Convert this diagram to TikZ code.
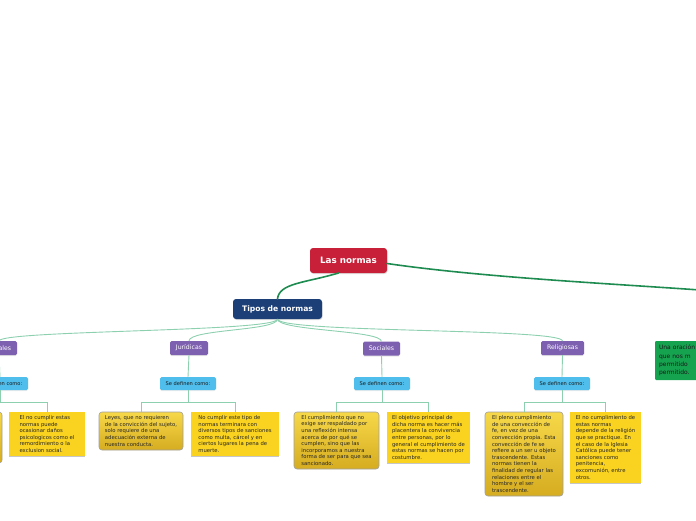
\documentclass[tikz,border=0pt]{standalone}
\usepackage{fontspec}
\setmainfont{DejaVu Sans}
\usetikzlibrary{shadows}
\definecolor{nred}{RGB}{200,32,56}
\definecolor{nblue}{RGB}{28,63,120}
\definecolor{catpurple}{RGB}{125,96,176}
\definecolor{seblue}{RGB}{80,190,236}
\definecolor{goldflat}{RGB}{250,211,32}
\definecolor{goldtop}{RGB}{246,216,72}
\definecolor{goldbot}{RGB}{214,172,32}
\definecolor{connlight}{RGB}{140,208,175}
\definecolor{conndark}{RGB}{30,140,80}
\definecolor{ngreen}{RGB}{22,163,80}
\begin{document}
\begin{tikzpicture}[x=1pt,y=-1pt,
  every node/.style={inner sep=0pt, outer sep=0pt},
  conn/.style={draw=connlight, line width=0.9pt},
  trunk/.style={draw=conndark, line width=1.6pt, line cap=round},
  topbox/.style={rounded corners=3pt, text=white, font=\fontsize{8.8}{10}\selectfont\bfseries,
    drop shadow={shadow xshift=0.6pt, shadow yshift=-1pt, opacity=0.25}},
  catbox/.style={fill=catpurple, rounded corners=1.5pt, text=white, font=\fontsize{6.2}{7}\selectfont,
    minimum height=14pt, drop shadow={shadow xshift=0pt, shadow yshift=-1pt, opacity=0.2}},
  sebox/.style={fill=seblue, rounded corners=1.5pt, text=black!90, font=\fontsize{5.1}{6}\selectfont,
    minimum width=56pt, minimum height=13pt, drop shadow={shadow xshift=0pt, shadow yshift=-1pt, opacity=0.15}},
  leafg/.style={anchor=north west, draw=gray!75, line width=0.6pt, rounded corners=3pt,
    top color=goldtop, bottom color=goldbot, align=left, text=black!85,
    font=\fontsize{5.3}{6.6}\selectfont},
  leafy/.style={anchor=north west, fill=goldflat, align=left, text=black!85,
    font=\fontsize{5.3}{6.6}\selectfont},
  shline/.style={draw=gray!45, line width=0.8pt},
  greenbox/.style={anchor=north west, fill=ngreen, rounded corners=1pt, align=left, text=black!90,
    font=\fontsize{6}{8.3}\selectfont, text width=76pt, inner xsep=4pt, inner ysep=3pt, minimum height=39pt}
]
\useasboundingbox (0,0) rectangle (696,520);
\clip (0,0) rectangle (696,520);

% top nodes
\node[topbox, fill=nred, minimum width=77pt, minimum height=25pt] (lasn) at (348.5,260.5) {Las normas};
\node[topbox, fill=nblue, minimum width=89pt, minimum height=20pt, font=\fontsize{7.6}{9}\selectfont\bfseries] (tipos) at (277.5,309) {Tipos de normas};
\coordinate (rend) at (700,290);

% categories
\node[catbox, minimum width=36pt] (mor) at (-1,348) {Morales};
\node[catbox, minimum width=38pt] (jur) at (189,348) {Jurídicas};
\node[catbox, minimum width=37pt] (soc) at (381.5,348.5) {Sociales};
\node[catbox, minimum width=43pt] (rel) at (562.5,348) {Religiosas};

% se definen
\node[sebox] (smor) at (0,383.5) {Se definen como:};
\node[sebox] (sjur) at (188,383.5) {Se definen como:};
\node[sebox] (ssoc) at (382,383.5) {Se definen como:};
\node[sebox] (srel) at (562,383.5) {Se definen como:};

% leaves
\node[leafg, minimum width=85pt, minimum height=51pt] (ml) at (-83,412) {};
\node[leafy, minimum width=76pt, minimum height=44pt] (mr) at (9,412) {El no cumplir estas\\normas puede\\ocasionar daños\\psicologicos como el\\remordimiento o la\\exclusion social.};

\node[leafg, minimum width=84pt, minimum height=38pt] (jl) at (99,412) {Leyes, que no requieren\\de la convicción del sujeto,\\solo requiere de una\\adecuación externa de\\nuestra conducta.};
\node[leafy, minimum width=88pt, minimum height=44pt] (jr) at (191,412) {No cumplir este tipo de\\normas terminara con\\diversos tipos de sanciones\\como multa, cárcel y en\\ciertos lugares la pena de\\muerte.};

\node[leafg, minimum width=85pt, minimum height=57pt] (sl) at (294,412) {El cumplimiento que no\\exige ser respaldado por\\una reflexión intensa\\acerca de por qué se\\cumplen, sino que las\\incorporamos a nuestra\\forma de ser para que sea\\sancionado.};
\node[leafy, minimum width=83pt, minimum height=51pt] (sr) at (387,412) {El objetivo principal de\\dicha norma es hacer más\\placentera la convivencia\\entre personas, por lo\\general el cumplimiento de\\estas normas se hacen por\\costumbre.};

\node[leafg, minimum width=78pt, minimum height=84pt] (rl) at (485,412) {El pleno cumplimiento\\de una convección de\\fe, en vez de una\\convección propia. Esta\\convección de fe se\\refiere a un ser u objeto\\trascendente. Estas\\normas tienen la\\finalidad de regular las\\relaciones entre el\\hombre y el ser\\trascendente.};
\node[leafy, minimum width=71pt, minimum height=71pt] (rr) at (570,412) {El no cumplimiento de\\estas normas\\depende de la religión\\que se practique. En\\el caso de la Iglesia\\Católica puede tener\\sanciones como\\penitencia,\\excomunión, entre\\otros.};

\node[greenbox] (verde) at (655,341) {Una oración\\que nos m\\permitido\\permitido.};

% shadow lines under flat boxes
\foreach \n in {mr,jr,sr,rr}{
  \draw[shline] ([yshift=-0.4pt]\n.south west) -- ([yshift=-0.4pt]\n.south east);
}

% trunk connectors
\draw[trunk] ([xshift=-10pt]lasn.south) .. controls (305,283) and (279,283) .. (tipos.north);
\draw[trunk] ([yshift=-3pt]lasn.east) .. controls (480,277) and (600,283) .. (rend);

% tipos to categories
\draw[conn] (tipos.south) .. controls (277.5,332) and (0,330) .. (mor.north);
\draw[conn] (tipos.south) .. controls (277.5,331) and (189,329) .. (jur.north);
\draw[conn] (tipos.south) .. controls (277.5,331) and (381.5,330) .. (soc.north);
\draw[conn] (tipos.south) .. controls (277.5,333) and (562.5,328) .. (rel.north);

% categories to se definen
\foreach \c/\s in {mor/smor,jur/sjur,soc/ssoc,rel/srel}{
  \draw[conn] (\c.south) -- (\s.north);
}

% se definen to leaves
\foreach \s/\l/\r in {smor/ml/mr,sjur/jl/jr,ssoc/sl/sr,srel/rl/rr}{
  \draw[conn] (\s.south) -- ++(0,12);
  \draw[conn] (\l.north) -- ++(0,-10) -| (\r.north);
}
\end{tikzpicture}
\end{document}
